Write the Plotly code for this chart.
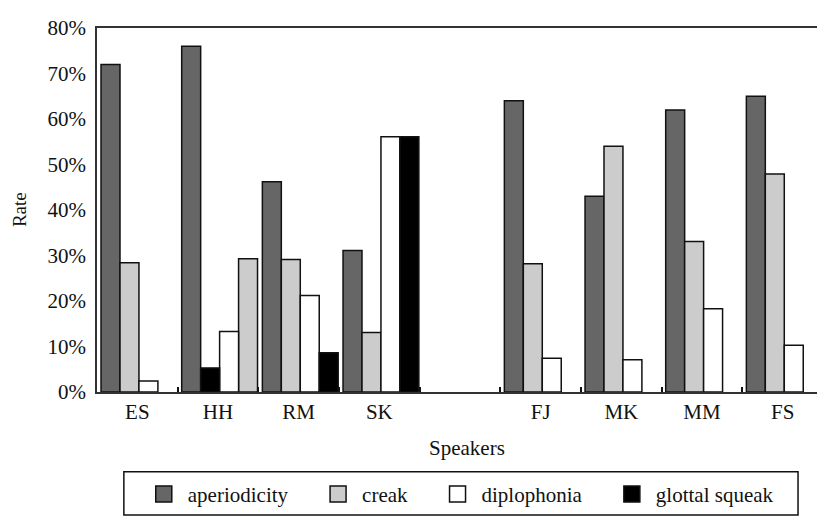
import plotly.graph_objects as go

speakers = ["ES", "HH", "RM", "SK", "FJ", "MK", "MM", "FS"]
gap_label = "\u00a0"
category_order = ["ES", "HH", "RM", "SK", gap_label, "FJ", "MK", "MM", "FS"]

series_names = ["aperiodicity", "creak", "diplophonia", "glottal squeak"]
aperiodicity = [0.72, 0.76, 0.462, 0.311, 0.64, 0.43, 0.62, 0.65]
creak = [0.284, 0.293, 0.291, 0.131, 0.282, 0.54, 0.331, 0.479]
diplophonia = [0.024, 0.133, 0.212, 0.561, 0.074, 0.071, 0.183, 0.103]
glottal_squeak = [None, 0.053, 0.086, 0.561, None, None, None, None]

# slot order of each series within each speaker's group (HH differs in the source)
slot_default = {"aperiodicity": 0, "creak": 1, "diplophonia": 2, "glottal squeak": 3}
slot_hh = {"aperiodicity": 0, "glottal squeak": 1, "diplophonia": 2, "creak": 3}

colors = {"aperiodicity": "#666666", "creak": "#cccccc",
          "diplophonia": "#ffffff", "glottal squeak": "#000000"}
values = {"aperiodicity": aperiodicity, "creak": creak,
          "diplophonia": diplophonia, "glottal squeak": glottal_squeak}

FONT = "Liberation Serif"
bar_w = 0.235
start = -0.45

fig = go.Figure()
for name in series_names:
    offsets = []
    for sp in speakers:
        slots = slot_hh if sp == "HH" else slot_default
        offsets.append(start + slots[name] * bar_w)
    fig.add_trace(go.Bar(
        x=speakers, y=values[name], name=name,
        offset=offsets, width=bar_w,
        marker=dict(color=colors[name], line=dict(color="#111111", width=1.5)),
        showlegend=False, hoverinfo="x+y+name",
    ))

pad = "\u00a0" * 4
for i, name in enumerate(series_names):
    fig.add_trace(go.Scatter(
        x=[None], y=[None], mode="markers",
        name=name + (pad if i < len(series_names) - 1 else ""),
        marker=dict(symbol="square", size=16, color=colors[name],
                    line=dict(color="#111111", width=1.5)),
        showlegend=True,
    ))

fig.update_layout(
    width=825, height=520,
    margin=dict(l=89, r=9, t=8, b=136),
    paper_bgcolor="white", plot_bgcolor="white",
    barmode="overlay",
    font=dict(family=FONT, size=21, color="#111111"),
    showlegend=True,
    legend=dict(orientation="h", x=0.499, xanchor="center",
                y=-0.281, yanchor="middle", itemwidth=38,
                font=dict(family=FONT, size=21, color="#111111"),
                bgcolor="rgba(0,0,0,0)", borderwidth=0),
    xaxis=dict(type="category", categoryorder="array", categoryarray=category_order,
               range=[-0.5, 8.5], tickson="boundaries", ticks="inside", ticklen=5,
               tickwidth=1.5, tickcolor="#111111",
               showline=True, linecolor="#333333", linewidth=1.5, mirror=True,
               showgrid=False, zeroline=False,
               tickfont=dict(family=FONT, size=21, color="#111111"),
               ticklabelstandoff=0),
    yaxis=dict(range=[0, 0.8], tickvals=[i / 10 for i in range(9)], tickformat=".0%",
               showline=True, linecolor="#333333", linewidth=1.5, mirror=True,
               showgrid=False, zeroline=False, ticks="",
               ticklabeloverflow="allow",
               tickfont=dict(family=FONT, size=21, color="#111111"),
               ticklabelstandoff=5),
    shapes=[dict(type="rect", xref="paper", yref="paper",
                 x0=0.037, x1=0.9656, y0=-0.2194, y1=-0.3378,
                 line=dict(color="#111111", width=1.5), fillcolor="rgba(0,0,0,0)")],
    annotations=[
        dict(text="Speakers", xref="paper", yref="paper", x=0.51, y=-0.155,
             xanchor="center", yanchor="middle", showarrow=False,
             font=dict(family=FONT, size=21, color="#111111")),
        dict(text="Rate", xref="paper", yref="paper", x=-0.1073, y=0.5,
             xanchor="center", yanchor="middle", textangle=-90, showarrow=False,
             font=dict(family=FONT, size=19, color="#111111")),
    ],
)

fig.write_html("out.html")
